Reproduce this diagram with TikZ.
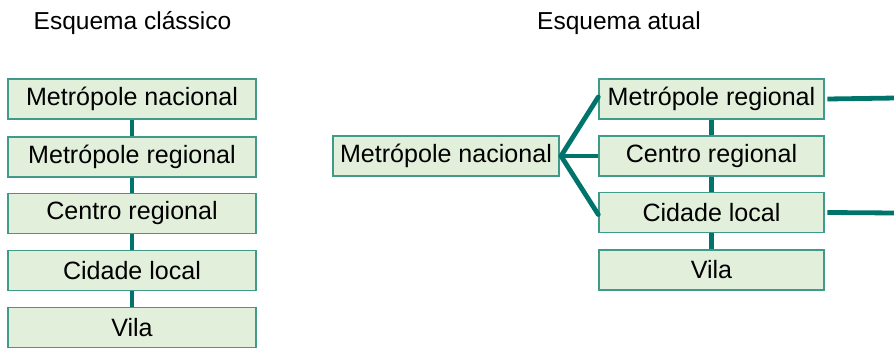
\documentclass[tikz,border=0pt]{standalone}
\usepackage{fontspec}
\setmainfont{Liberation Sans}
\definecolor{boxfill}{HTML}{E2EFDA}
\definecolor{boxline}{HTML}{3F9A8A}
\definecolor{conn}{HTML}{00736A}
\begin{document}
\begin{tikzpicture}[x=0.75pt,y=-0.75pt,
  lvl/.style={draw=boxline,fill=boxfill,line width=1.1pt,minimum height=30pt,inner sep=0pt,font=\fontsize{18.8pt}{20pt}\selectfont},
  lbox/.style={lvl,minimum width=186pt},
  rbox/.style={lvl,minimum width=168.75pt},
  link/.style={draw=conn,line width=3.6pt},
  ttl/.style={anchor=base,inner sep=0pt,font=\fontsize{18.4pt}{20pt}\selectfont}]
\useasboundingbox (0,0) rectangle (894,347);
\node[ttl] (t1) at (132.5,29) {Esquema clássico};
\node[ttl] (t2) at (619,29) {Esquema atual};
% classic scheme
\node[lbox] (a1) at (132,99) {Metrópole nacional};
\node[lbox] (a2) at (132,157) {Metrópole regional};
\node[lbox] (a3) at (132,213.5) {Centro regional};
\node[lbox] (a4) at (132,270.5) {Cidade local};
\node[lbox] (a5) at (132,327.5) {Vila};
\draw[link] (a1) -- (a2);
\draw[link] (a2) -- (a3);
\draw[link] (a3) -- (a4);
\draw[link] (a4) -- (a5);
% current scheme
\node[lvl,minimum width=169.5pt] (n) at (446,156) {Metrópole nacional};
\node[rbox] (r1) at (711.5,99) {Metrópole regional};
\node[rbox] (r2) at (711.5,156) {Centro regional};
\node[rbox] (r3) at (711.5,212.5) {Cidade local};
\node[rbox] (r4) at (711.5,270) {Vila};
\draw[link] (r1) -- (r2);
\draw[link] (r2) -- (r3);
\draw[link] (r3) -- (r4);
\coordinate (f) at (561,156);
\draw[link] (n.east) -- (r2.west);
\draw[link,line cap=round] (f) -- ([yshift=1.5pt]r1.west);
\draw[link,line cap=round] (f) -- ([yshift=-1.5pt]r3.west);
\coordinate (e1) at (896,98);
\coordinate (e3) at (896,213);
\draw[link] ([xshift=2pt]r1.east) -- (e1);
\draw[link] ([xshift=2pt]r3.east) -- (e3);
\end{tikzpicture}
\end{document}
